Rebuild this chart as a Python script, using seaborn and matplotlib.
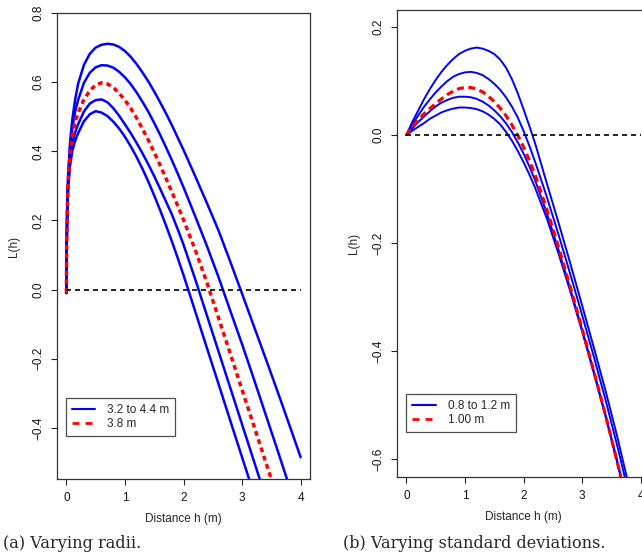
import matplotlib
matplotlib.use("Agg")
import matplotlib.pyplot as plt
import seaborn as sns
from matplotlib.lines import Line2D
from matplotlib.ticker import FixedLocator, StrMethodFormatter

# (a) varying radii -- L(h)
h_radii = [0, 0.005, 0.015, 0.03, 0.06, 0.1, 0.15, 0.2, 0.3, 0.4, 0.5, 0.6, 0.7, 0.8, 0.9, 1.0, 1.1, 1.2,
           1.3, 1.4, 1.5, 1.6, 1.7, 1.8, 1.9, 2.0, 2.2, 2.4, 2.6, 2.8, 3.0, 3.2, 3.4, 3.6, 3.8, 4.0]
l_r32 = [-0.01, 0.11, 0.22, 0.29, 0.355, 0.40, 0.43, 0.452, 0.487, 0.507, 0.516, 0.512, 0.502, 0.486,
         0.466, 0.442, 0.414, 0.383, 0.349, 0.312, 0.272, 0.23, 0.186, 0.14, 0.092, 0.042,
         -0.063, -0.169, -0.274, -0.38, -0.485, -0.59, -0.696, -0.80, -0.906, -1.01]
l_r35 = [-0.01, 0.12, 0.225, 0.30, 0.37, 0.42, 0.455, 0.478, 0.515, 0.538, 0.548, 0.55, 0.542, 0.525,
         0.503, 0.478, 0.452, 0.424, 0.394, 0.362, 0.328, 0.292, 0.255, 0.218, 0.175, 0.13,
         0.03, -0.075, -0.18, -0.285, -0.39, -0.495, -0.60, -0.70, -0.80, -0.90]
l_r38 = [-0.01, 0.12, 0.23, 0.31, 0.385, 0.44, 0.485, 0.51, 0.55, 0.575, 0.592, 0.598, 0.595, 0.585,
         0.568, 0.548, 0.524, 0.496, 0.465, 0.432, 0.397, 0.36, 0.322, 0.283, 0.243, 0.202,
         0.115, 0.02, -0.083, -0.186, -0.29, -0.393, -0.497, -0.60, -0.705, -0.81]
l_r41 = [-0.01, 0.13, 0.24, 0.32, 0.40, 0.465, 0.515, 0.548, 0.598, 0.627, 0.643, 0.649, 0.648, 0.642,
         0.63, 0.614, 0.594, 0.57, 0.543, 0.514, 0.482, 0.448, 0.412, 0.375, 0.336, 0.296,
         0.212, 0.126, 0.035, -0.062, -0.158, -0.258, -0.36, -0.462, -0.565, -0.67]
l_r44 = [-0.01, 0.13, 0.25, 0.33, 0.42, 0.49, 0.55, 0.595, 0.65, 0.682, 0.70, 0.708, 0.711, 0.709,
         0.702, 0.69, 0.673, 0.652, 0.628, 0.602, 0.573, 0.542, 0.51, 0.476, 0.44, 0.404,
         0.328, 0.25, 0.17, 0.08, -0.012, -0.105, -0.198, -0.292, -0.388, -0.485]

# (b) varying standard deviations
h_sd = [0, 0.05, 0.1, 0.2, 0.3, 0.4, 0.5, 0.6, 0.7, 0.8, 0.9, 1.0, 1.1, 1.2, 1.3, 1.4,
        1.5, 1.6, 1.7, 1.8, 1.9, 2.0, 2.1, 2.2, 2.4, 2.6, 2.8, 3.0, 3.2, 3.4, 3.6, 3.8]
l_sd08 = [0, 0.004, 0.008, 0.015, 0.022, 0.03, 0.036, 0.042, 0.046, 0.049, 0.051, 0.051, 0.05, 0.048,
          0.044, 0.038, 0.03, 0.02, 0.006, -0.01, -0.029, -0.05, -0.073, -0.098,
          -0.155, -0.22, -0.29, -0.363, -0.44, -0.52, -0.606, -0.695]
l_sd09 = [0, 0.006, 0.012, 0.024, 0.034, 0.044, 0.053, 0.06, 0.065, 0.069, 0.071, 0.071, 0.07, 0.067,
          0.062, 0.055, 0.046, 0.035, 0.022, 0.006, -0.013, -0.034, -0.058, -0.084,
          -0.145, -0.213, -0.285, -0.36, -0.437, -0.518, -0.603, -0.692]
l_sd10 = [0, 0.008, 0.015, 0.028, 0.039, 0.049, 0.058, 0.067, 0.075, 0.081, 0.086, 0.088, 0.088, 0.085,
          0.08, 0.072, 0.062, 0.05, 0.036, 0.019, 0.0, -0.022, -0.047, -0.074,
          -0.138, -0.208, -0.282, -0.358, -0.437, -0.518, -0.605, -0.695]
l_sd11 = [0, 0.01, 0.019, 0.036, 0.052, 0.066, 0.079, 0.09, 0.10, 0.108, 0.113, 0.116, 0.117, 0.115,
          0.111, 0.104, 0.095, 0.084, 0.07, 0.053, 0.033, 0.008, -0.02, -0.05,
          -0.115, -0.185, -0.258, -0.333, -0.41, -0.49, -0.575, -0.665]
l_sd12 = [0, 0.012, 0.024, 0.045, 0.066, 0.085, 0.102, 0.117, 0.13, 0.141, 0.15, 0.156, 0.16, 0.162,
          0.16, 0.156, 0.15, 0.14, 0.125, 0.104, 0.078, 0.048, 0.017, -0.016,
          -0.09, -0.163, -0.238, -0.315, -0.393, -0.473, -0.558, -0.65]

xticks = [0, 1, 2, 3, 4]
yticks_a = [-0.4, -0.2, 0.0, 0.2, 0.4, 0.6, 0.8]
yticks_b = [-0.6, -0.4, -0.2, 0.0, 0.2]

BLUE = "#0000FF"
RED = "#FF0000"

sns.set_style("ticks")
plt.rcParams['font.family'] = ['Liberation Sans', 'DejaVu Sans']

fig = plt.figure(figsize=(6.42, 5.59), dpi=100)
ax_a = fig.add_axes([57 / 642, 1 - 479 / 559, 253 / 642, 466 / 559])
ax_b = fig.add_axes([397 / 642, 1 - 477 / 559, 253 / 642, 467 / 559])


def style_axes(ax, yticks, ylim):
    ax.set_xlim(-0.16, 4.16)
    ax.set_ylim(*ylim)
    ax.xaxis.set_major_locator(FixedLocator(xticks))
    ax.yaxis.set_major_locator(FixedLocator(yticks))
    ax.yaxis.set_major_formatter(StrMethodFormatter("{x:.1f}"))
    ax.tick_params(direction="out", length=4.3, width=0.8, pad=5, labelsize=8.5,
                   color="#222222", labelcolor="#111111")
    for lab in ax.get_yticklabels():
        lab.set_rotation(90)
        lab.set_va("center")
    for sp in ax.spines.values():
        sp.set_color("#333333")
        sp.set_linewidth(0.9)
    ax.set_xlabel("Distance h (m)", fontsize=8.5)
    ax.set_ylabel("L(h)", fontsize=8.5)
    ax.xaxis.set_label_coords(0.5, -0.072)
    ax.yaxis.set_label_coords(-0.148, 0.5)
    ax.xaxis.label.set_va("top")
    ax.plot([0, 4], [0, 0], color="black", lw=1.2, dashes=(3, 2.4))


# panel (a)
for curve in [l_r32, l_r35, l_r41, l_r44]:
    sns.lineplot(x=h_radii, y=curve, ax=ax_a, color=BLUE, lw=1.8)
sns.lineplot(x=h_radii, y=l_r38, ax=ax_a, color=RED, lw=2.5)
ax_a.lines[-1].set_dashes((1.4, 1.1))
style_axes(ax_a, yticks_a, (-0.548, 0.8))

# panel (b)
for curve in [l_sd08, l_sd09, l_sd11, l_sd12]:
    sns.lineplot(x=h_sd, y=curve, ax=ax_b, color=BLUE, lw=1.4)
sns.lineplot(x=h_sd, y=l_sd10, ax=ax_b, color=RED, lw=2.3)
ax_b.lines[-1].set_dashes((2.2, 1.4))
style_axes(ax_b, yticks_b, (-0.633, 0.2315))

handles = [Line2D([], [], color=BLUE, lw=1.5),
           Line2D([], [], color=RED, lw=2.0, dashes=(2.5, 2.2))]
for ax, labels, anchor in [(ax_a, ["3.2 to 4.4 m", "3.8 m"], (0.034, 0.092)),
                           (ax_b, ["0.8 to 1.2 m", "1.00 m"], (0.037, 0.096))]:
    leg = ax.legend(handles, labels, loc="lower left", bbox_to_anchor=anchor,
                    borderaxespad=0, fontsize=8.5, frameon=True, fancybox=False,
                    handlelength=2.0, handletextpad=1.0, labelspacing=0.2,
                    borderpad=0.5)
    leg.get_frame().set_edgecolor("#222222")
    leg.get_frame().set_linewidth(0.9)

fig.text(3 / 642, 1 - 544 / 559, "(a) Varying radii.", fontsize=11.6,
         family="DejaVu Serif", va="center", ha="left")
fig.text(343 / 642, 1 - 544 / 559, "(b) Varying standard deviations.", fontsize=11.6,
         family="DejaVu Serif", va="center", ha="left")

fig.savefig("out.png", dpi=100)
